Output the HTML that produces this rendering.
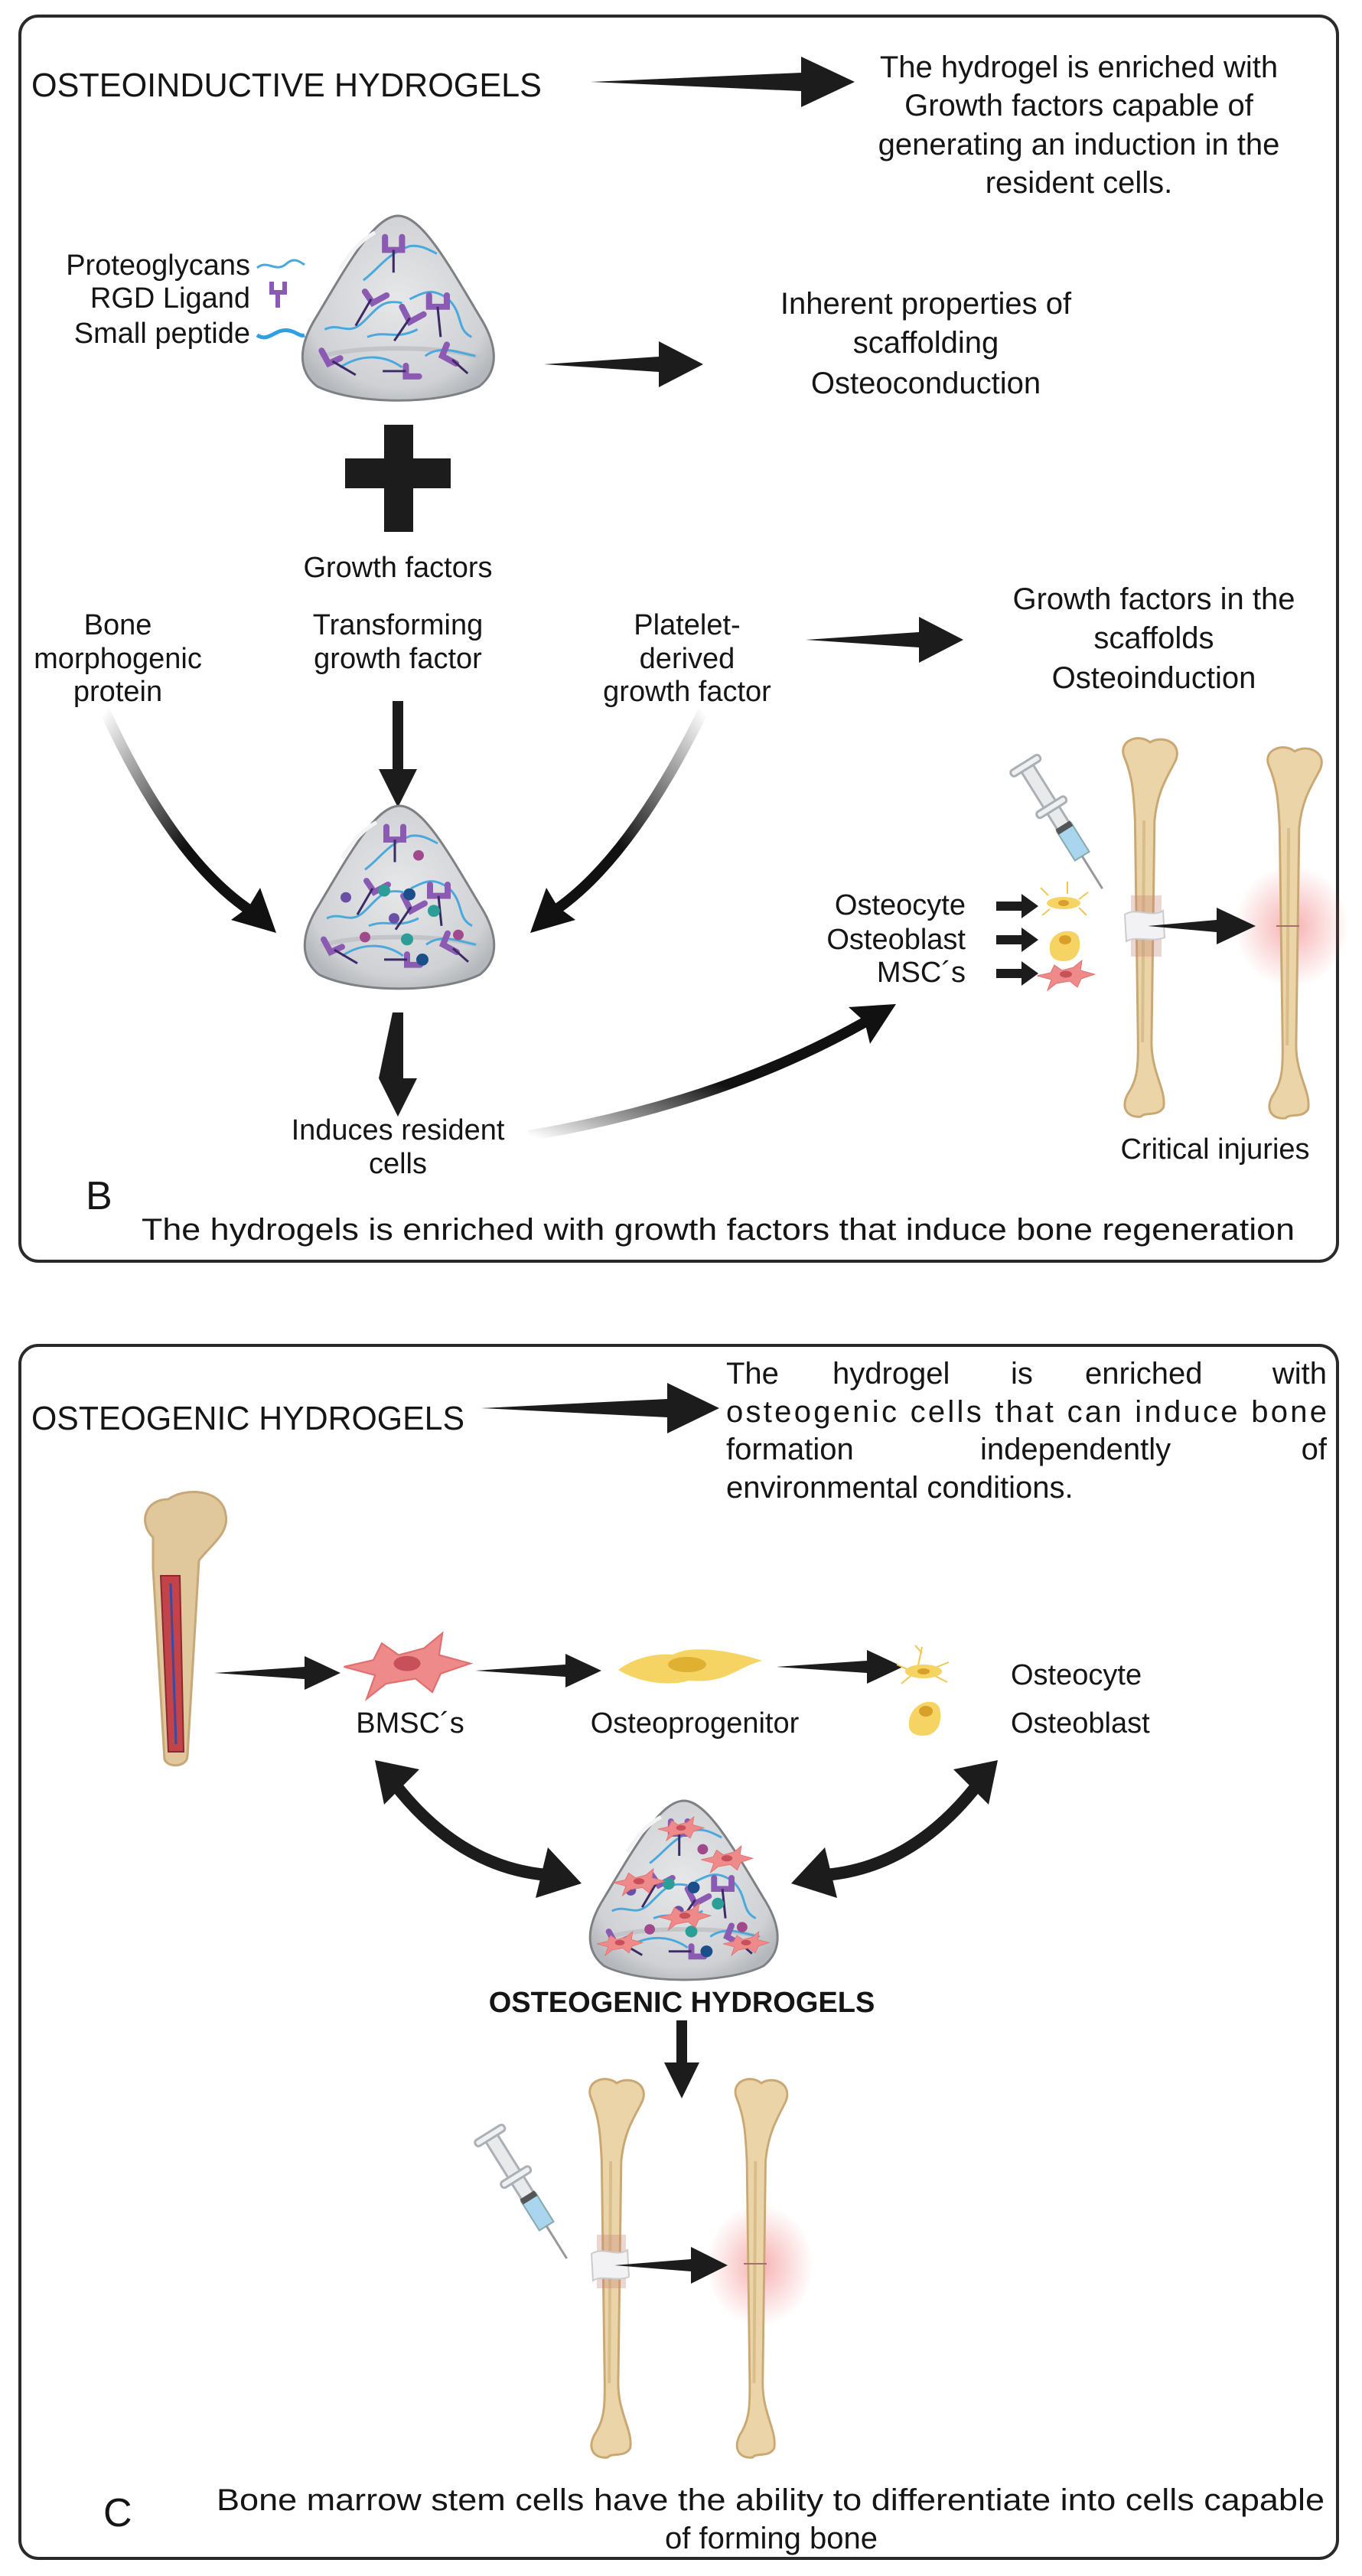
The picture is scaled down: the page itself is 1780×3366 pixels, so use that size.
<!DOCTYPE html>
<html><head><meta charset="utf-8"><style>
html,body{margin:0;padding:0;background:#fff}
svg{display:block}
text{font-family:"Liberation Sans",sans-serif;fill:#151515}
</style></head><body>
<svg width="1780" height="3366" viewBox="0 0 1780 3366" xmlns="http://www.w3.org/2000/svg">
<defs>
<radialGradient id="gel" cx="0.5" cy="0.45" r="0.6">
<stop offset="0" stop-color="#e6e7e9"/><stop offset="0.8" stop-color="#cfd1d4"/><stop offset="1" stop-color="#b4b7bb"/></radialGradient>
<radialGradient id="glow" cx="0.5" cy="0.5" r="0.5">
<stop offset="0" stop-color="#f07070" stop-opacity="0.55"/><stop offset="1" stop-color="#f07070" stop-opacity="0"/></radialGradient>
<linearGradient id="fadeL" x1="0" y1="0" x2="1" y2="1"><stop offset="0" stop-color="#fff"/><stop offset="0.6" stop-color="#111"/></linearGradient>
<linearGradient id="fadeR" x1="1" y1="0" x2="0" y2="1"><stop offset="0" stop-color="#fff"/><stop offset="0.6" stop-color="#111"/></linearGradient>
<linearGradient id="fadeB" x1="0" y1="1" x2="1" y2="0"><stop offset="0" stop-color="#fff"/><stop offset="0.5" stop-color="#111"/></linearGradient>
<g id="dome">
<path d="M30,225 C5,205 5,172 30,132 C72,60 105,0 135,0 C165,0 198,60 240,132 C265,172 265,205 240,225 C190,250 80,250 30,225 Z" fill="url(#gel)" stroke="#7d8084" stroke-width="3"/>
<path d="M25,190 C60,170 210,170 245,190" fill="none" stroke="#c2c4c7" stroke-width="6"/>
<path d="M60,70 C75,45 90,30 105,22" fill="none" stroke="#f4f4f5" stroke-width="5"/>
<g fill="none" stroke="#4aa9dc" stroke-width="3">
<path d="M90,85 C110,70 120,50 150,40 C165,38 175,45 185,50"/>
<path d="M40,150 C60,140 70,160 90,140 C110,120 115,110 140,115"/>
<path d="M150,110 C170,100 180,95 200,110 C220,130 210,150 230,160"/>
<path d="M60,200 C90,180 120,185 140,200"/>
<path d="M170,185 C190,170 210,180 235,185"/>
<path d="M95,160 C120,150 130,165 160,150"/>
</g>
<g fill="none" stroke="#8b5bb3" stroke-width="8" stroke-linecap="round">
<path d="M118,28 L118,45 L140,45 L140,28"/>
<path d="M92,100 L102,115 L120,105"/>
<path d="M140,120 L150,140 L168,130"/>
<path d="M175,105 L175,120 L198,120 L198,105"/>
<path d="M36,178 L45,195 L60,188"/>
<path d="M145,198 L145,212 L162,212"/>
<path d="M198,170 L192,185 L210,195"/>
</g>
<g stroke="#3b2a63" stroke-width="3">
<line x1="129" y1="45" x2="129" y2="75"/><line x1="100" y1="110" x2="80" y2="145"/>
<line x1="150" y1="135" x2="130" y2="165"/><line x1="186" y1="120" x2="190" y2="160"/>
<line x1="50" y1="192" x2="80" y2="210"/><line x1="145" y1="205" x2="115" y2="205"/>
<line x1="205" y1="190" x2="225" y2="208"/>
</g>
</g>
<g id="dots">
<circle cx="160" cy="66" r="7" fill="#a04a8c"/><circle cx="65" cy="122" r="7" fill="#6a4fa6"/>
<circle cx="115" cy="113" r="8" fill="#2d9d97"/><circle cx="148" cy="118" r="8" fill="#1b4f8c"/>
<circle cx="180" cy="140" r="8" fill="#2d9d97"/><circle cx="128" cy="150" r="7" fill="#6a4fa6"/>
<circle cx="145" cy="178" r="8" fill="#2d9d97"/><circle cx="90" cy="175" r="7" fill="#a04a8c"/>
<circle cx="212" cy="172" r="7" fill="#a04a8c"/><circle cx="165" cy="205" r="8" fill="#1b4f8c"/>
</g>
<g id="bone">
<path d="M18,28 C8,5 38,-4 52,8 C68,-2 96,8 86,32 C76,52 62,70 58,110 L54,400 C54,440 74,462 70,485 C62,498 46,490 40,497 C24,499 12,488 22,468 C36,448 36,430 36,400 L32,110 C30,70 28,52 18,28 Z" fill="#ead4a8" stroke="#c9a874" stroke-width="3"/>
<path d="M44,110 L42,400" stroke="#d9bd8a" stroke-width="4"/>
</g>
<g id="pinkcell">
<path d="M-75,0 L-40,-8 L-30,-28 L-10,-14 L20,-22 L42,-40 L38,-14 L75,-4 L40,8 L30,30 L10,14 L-25,20 L-48,38 L-38,10 Z" fill="#ef8a8a" stroke="#e07070" stroke-width="2"/>
<ellipse cx="0" cy="-4" rx="16" ry="9" fill="#c8505a"/>
</g>
<g id="syringe">
<rect x="-9" y="0" width="18" height="110" fill="#e8eaec" stroke="#aab0b5" stroke-width="3"/>
<rect x="-22" y="-4" width="44" height="9" rx="4" fill="#eef0f2" stroke="#aab0b5" stroke-width="3"/>
<rect x="-22" y="60" width="44" height="9" rx="4" fill="#eef0f2" stroke="#aab0b5" stroke-width="3"/>
<rect x="-11" y="95" width="22" height="45" fill="#a9d6ee" stroke="#8aa" stroke-width="2"/>
<rect x="-11" y="92" width="22" height="8" fill="#555"/>
<line x1="0" y1="140" x2="0" y2="190" stroke="#999" stroke-width="3"/>
</g>
</defs>

<!-- ============ PANEL B ============ -->
<rect x="26" y="21" width="1722" height="1627" rx="24" fill="none" stroke="#2a2a2a" stroke-width="4"/>
<text x="41" y="126" font-size="44" textLength="667" lengthAdjust="spacingAndGlyphs">OSTEOINDUCTIVE HYDROGELS</text>
<path d="M0,0 L275,-12 L275,-33 L345,0 L275,33 L275,12 Z" transform="translate(772,107)" fill="#1c1c1c"/>
<g font-size="40" text-anchor="middle">
<text x="1410" y="101">The hydrogel is enriched with</text>
<text x="1410" y="151">Growth factors capable of</text>
<text x="1410" y="202">generating an induction in the</text>
<text x="1410" y="252">resident cells.</text>
</g>
<use href="#dome" transform="translate(384,282) scale(1.01,0.99)"/>
<g font-size="38" text-anchor="end">
<text x="327" y="359">Proteoglycans</text>
<text x="327" y="402">RGD Ligand</text>
<text x="327" y="448">Small peptide</text>
</g>
<path d="M336,350 C350,338 360,358 375,344 C385,336 392,342 398,346" fill="none" stroke="#4aa9dc" stroke-width="3"/>
<path d="M355,368 L355,382 L372,382 L372,368 M363,382 L363,402" fill="none" stroke="#8b5bb3" stroke-width="6"/>
<path d="M336,438 C352,448 360,428 378,432 C388,434 392,440 398,438" fill="none" stroke="#2e9fe0" stroke-width="5"/>
<path d="M0,0 L150,-10 L150,-30 L208,0 L150,30 L150,10 Z" transform="translate(711,476)" fill="#1c1c1c"/>
<g font-size="40" text-anchor="middle">
<text x="1210" y="410">Inherent properties of</text>
<text x="1210" y="461">scaffolding</text>
<text x="1210" y="514">Osteoconduction</text>
</g>
<rect x="502" y="555" width="38" height="140" fill="#1c1c1c"/>
<rect x="451" y="599" width="138" height="39" fill="#1c1c1c"/>
<g font-size="38" text-anchor="middle">
<text x="520" y="754">Growth factors</text>
<text x="154" y="829">Bone</text><text x="154" y="873">morphogenic</text><text x="154" y="916">protein</text>
<text x="520" y="829">Transforming</text><text x="520" y="873">growth factor</text>
<text x="898" y="829">Platelet-</text><text x="898" y="873">derived</text><text x="898" y="916">growth factor</text>
</g>
<path d="M0,0 L148,-10 L148,-30 L206,0 L148,30 L148,10 Z" transform="translate(1053,836)" fill="#1c1c1c"/>
<g font-size="40" text-anchor="middle">
<text x="1508" y="796">Growth factors in the</text>
<text x="1508" y="847">scaffolds</text>
<text x="1508" y="899">Osteoinduction</text>
</g>
<path d="M513,916 L527,916 L527,1005 L545,1005 L520,1055 L495,1005 L513,1005 Z" fill="#1c1c1c"/>
<path d="M137,929 Q230,1130 335,1195" fill="none" stroke="url(#fadeL)" stroke-width="14"/>
<path d="M361,1219 L302,1202 L325,1185 L340,1160 Z" fill="#111"/>
<path d="M919,929 Q820,1130 717,1195" fill="none" stroke="url(#fadeR)" stroke-width="14"/>
<path d="M693,1219 L752,1202 L729,1185 L714,1160 Z" fill="#111"/>
<use href="#dome" transform="translate(387,1053) scale(1.0,0.98)"/>
<use href="#dots" transform="translate(387,1053) scale(1.0,0.98)"/>
<path d="M513,1323 L527,1323 L527,1409 L545,1409 L520,1459 L495,1409 Z" fill="#1c1c1c"/>
<g font-size="38" text-anchor="middle">
<text x="520" y="1489">Induces resident</text>
<text x="520" y="1533">cells</text>
</g>
<path d="M691,1484 Q950,1440 1140,1330" fill="none" stroke="url(#fadeB)" stroke-width="14"/>
<path d="M1171,1312 L1137,1364 L1130,1335 L1109,1316 Z" fill="#111"/>
<g font-size="38" text-anchor="end">
<text x="1262" y="1195">Osteocyte</text>
<text x="1262" y="1240">Osteoblast</text>
<text x="1262" y="1283">MSC´s</text>
</g>
<g fill="#1c1c1c">
<path d="M1302,1178 L1335,1178 L1335,1168 L1357,1184 L1335,1200 L1335,1190 L1302,1190 Z"/>
<path d="M1302,1222 L1335,1222 L1335,1212 L1357,1228 L1335,1244 L1335,1234 L1302,1234 Z"/>
<path d="M1302,1266 L1335,1266 L1335,1256 L1357,1272 L1335,1288 L1335,1278 L1302,1278 Z"/>
</g>
<g stroke="#f0c850" stroke-width="2" fill="none">
<path d="M1370,1170 L1360,1160 M1395,1168 L1395,1152 M1410,1175 L1422,1166 M1372,1188 L1362,1196 M1410,1186 L1420,1196"/>
</g>
<ellipse cx="1390" cy="1180" rx="22" ry="8" fill="#f5d463"/><ellipse cx="1390" cy="1180" rx="7" ry="4" fill="#d8a02a"/>
<path d="M1372,1240 C1370,1215 1405,1210 1410,1225 C1414,1240 1408,1256 1390,1256 C1378,1256 1372,1250 1372,1240 Z" fill="#f5d463"/>
<ellipse cx="1392" cy="1228" rx="8" ry="6" fill="#d8a02a"/>
<use href="#pinkcell" transform="translate(1393,1275) scale(0.5)"/>
<use href="#syringe" transform="translate(1340,1000) rotate(-32)"/>
<ellipse cx="1688" cy="1210" rx="75" ry="80" fill="url(#glow)"/>
<use href="#bone" transform="translate(1452,962) scale(0.98,1)"/>
<use href="#bone" transform="translate(1641,974) scale(0.98,0.98)"/>
<rect x="1478" y="1170" width="40" height="80" fill="#c98a7a" opacity="0.35"/>
<path d="M1470,1195 C1485,1185 1505,1200 1520,1190 L1522,1225 C1505,1232 1485,1222 1472,1230 Z" fill="#f2f2f4" stroke="#ccc" stroke-width="2"/>
<line x1="1668" y1="1210" x2="1698" y2="1210" stroke="#a5706a" stroke-width="2"/>
<path d="M0,0 L90,-8 L90,-24 L141,0 L90,24 L90,8 Z" transform="translate(1500,1210)" fill="#1c1c1c"/>
<text x="1588" y="1514" font-size="38" text-anchor="middle">Critical injuries</text>
<text x="112" y="1580" font-size="52">B</text>
<text x="185" y="1620" font-size="40" textLength="1507" lengthAdjust="spacingAndGlyphs">The hydrogels is enriched with growth factors that induce bone regeneration</text>

<!-- ============ PANEL C ============ -->
<rect x="26" y="1758" width="1722" height="1585" rx="24" fill="none" stroke="#2a2a2a" stroke-width="4"/>
<text x="41" y="1868" font-size="44" textLength="566" lengthAdjust="spacingAndGlyphs">OSTEOGENIC HYDROGELS</text>
<path d="M0,0 L243,-12 L243,-33 L311,0 L243,33 L243,12 Z" transform="translate(629,1840)" fill="#1c1c1c"/>
<g font-size="40">
<text x="949" y="1808">The</text>
<text x="1088" y="1808">hydrogel</text>
<text x="1321" y="1808">is</text>
<text x="1418" y="1808">enriched</text>
<text x="1734" y="1808" text-anchor="end">with</text>
<text x="949" y="1858" textLength="785" lengthAdjust="spacing">osteogenic cells that can induce bone</text>
<text x="949" y="1907">formation</text>
<text x="1281" y="1907">independently</text>
<text x="1734" y="1907" text-anchor="end">of</text>
<text x="949" y="1957">environmental conditions.</text>
</g>
<g transform="translate(160,1949)">
<path d="M40,60 C20,40 30,10 60,10 C80,-5 130,-5 135,30 C140,55 115,70 100,90 L85,345 C85,360 60,362 55,350 L40,100 Z" fill="#e0c89c" stroke="#c7a878" stroke-width="3"/>
<path d="M50,110 L60,340 L80,340 L75,110 Z" fill="#c2444a" stroke="#8a2a30" stroke-width="2"/>
<path d="M63,120 L70,330" stroke="#3a4aa0" stroke-width="3"/>
</g>
<path d="M0,0 L118,-8 L118,-22 L165,0 L118,22 L118,8 Z" transform="translate(280,2186)" fill="#1c1c1c"/>
<use href="#pinkcell" transform="translate(532,2178) scale(1.1)"/>
<path d="M0,0 L118,-8 L118,-22 L165,0 L118,22 L118,8 Z" transform="translate(621,2183)" fill="#1c1c1c"/>
<path d="M808,2182 C830,2165 860,2160 880,2162 C900,2150 950,2155 996,2170 C960,2180 950,2200 900,2196 C870,2205 830,2196 808,2182 Z" fill="#f5d463"/>
<ellipse cx="898" cy="2175" rx="25" ry="10" fill="#e0b030"/>
<path d="M0,0 L118,-8 L118,-22 L165,0 L118,22 L118,8 Z" transform="translate(1015,2178)" fill="#1c1c1c"/>
<g stroke="#f0c850" stroke-width="2" fill="none">
<path d="M1190,2183 L1172,2175 M1200,2176 L1205,2152 M1205,2160 L1196,2150 M1220,2180 L1240,2172 M1190,2190 L1178,2200 M1222,2190 L1238,2198"/>
</g>
<ellipse cx="1207" cy="2184" rx="24" ry="9" fill="#f5d463"/><ellipse cx="1207" cy="2184" rx="8" ry="4" fill="#d8a02a"/>
<path d="M1188,2255 C1186,2225 1222,2215 1228,2232 C1232,2250 1226,2268 1206,2268 C1194,2268 1188,2262 1188,2255 Z" fill="#f5d463"/>
<ellipse cx="1210" cy="2236" rx="9" ry="7" fill="#d8a02a"/>
<g font-size="38">
<text x="536" y="2264" text-anchor="middle">BMSC´s</text>
<text x="908" y="2264" text-anchor="middle">Osteoprogenitor</text>
<text x="1321" y="2201">Osteocyte</text>
<text x="1321" y="2264">Osteoblast</text>
</g>
<g id="dbl">
<path d="M515,2330 Q600,2440 715,2450" fill="none" stroke="#1c1c1c" stroke-width="16"/>
<path d="M490,2300 L548,2312 L502,2358 Z" fill="#1c1c1c"/>
<path d="M760,2461 L700,2480 L716,2414 Z" fill="#1c1c1c"/>
</g>
<use href="#dbl" transform="translate(1794,0) scale(-1,1)"/>
<use href="#dome" transform="translate(760,2353) scale(0.99,0.96)"/>
<use href="#dots" transform="translate(760,2353) scale(0.99,0.96)"/>
<use href="#pinkcell" transform="translate(890,2390) scale(0.4)"/>
<use href="#pinkcell" transform="translate(835,2460) scale(0.45)"/>
<use href="#pinkcell" transform="translate(950,2430) scale(0.45)"/>
<use href="#pinkcell" transform="translate(895,2505) scale(0.45)"/>
<use href="#pinkcell" transform="translate(810,2540) scale(0.4)"/>
<use href="#pinkcell" transform="translate(975,2540) scale(0.4)"/>
<text x="891" y="2629" font-size="38" font-weight="bold" text-anchor="middle">OSTEOGENIC HYDROGELS</text>
<path d="M884,2640 L898,2640 L898,2695 L914,2695 L891,2742 L868,2695 L884,2695 Z" fill="#1c1c1c"/>
<use href="#syringe" transform="translate(640,2790) rotate(-32)"/>
<ellipse cx="993" cy="2960" rx="70" ry="80" fill="url(#glow)"/>
<use href="#bone" transform="translate(755,2714) scale(0.98,1)"/>
<use href="#bone" transform="translate(946,2714) scale(0.94,1)"/>
<rect x="780" y="2920" width="38" height="70" fill="#c98a7a" opacity="0.35"/>
<path d="M773,2945 C788,2935 806,2950 820,2940 L822,2975 C806,2982 788,2972 775,2980 Z" fill="#f2f2f4" stroke="#ccc" stroke-width="2"/>
<line x1="972" y1="2958" x2="1002" y2="2958" stroke="#a5706a" stroke-width="2"/>
<path d="M0,0 L100,-8 L100,-24 L148,0 L100,24 L100,8 Z" transform="translate(803,2960)" fill="#1c1c1c"/>
<text x="135" y="3301" font-size="52">C</text>
<text x="283" y="3280" font-size="40" textLength="1448" lengthAdjust="spacingAndGlyphs">Bone marrow stem cells have the ability to differentiate into cells capable</text>
<text x="1008" y="3330" font-size="40" text-anchor="middle">of forming bone</text>
</svg>
</body></html>
